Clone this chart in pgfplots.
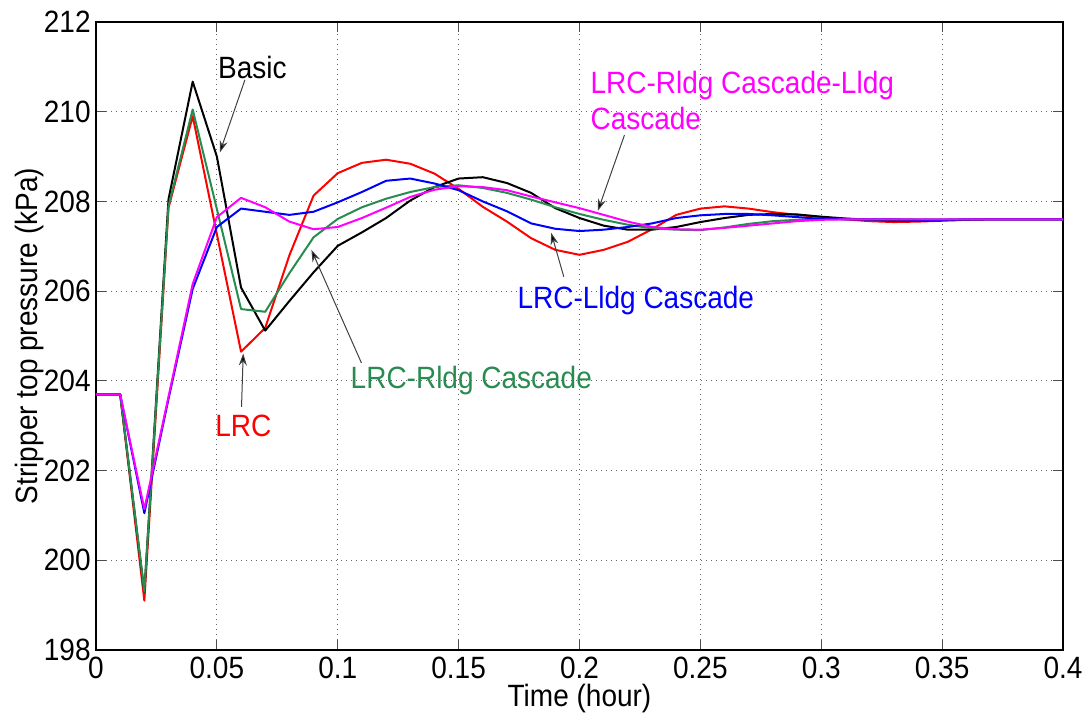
\documentclass[border=0pt]{standalone}
\usepackage{fontspec}
\setmainfont{Liberation Sans}
\usepackage{graphicx}
\usepackage{pgfplots}
\usepackage{pgfplotstable}
\pgfplotsset{compat=1.18}
\usetikzlibrary{arrows.meta}
\definecolor{mgreen}{RGB}{40,140,80}
\definecolor{mag}{RGB}{255,0,255}
\definecolor{mred}{RGB}{255,0,0}
\definecolor{mblue}{RGB}{0,0,255}
\newcommand{\st}[1]{\scalebox{1}[1.1]{#1}}
\newcommand{\fs}{\fontsize{14bp}{16bp}\selectfont}

\pgfplotstableread{
x basic lrc rldg lldg both
0.00 203.70 203.70 203.70 203.70 203.70
0.01 203.70 203.70 203.70 203.70 203.70
0.02 199.30 199.10 199.30 201.05 201.14
0.03 208.05 207.86 207.90 203.60 203.65
0.04 210.67 209.90 210.05 206.05 206.16
0.05 209.00 207.27 207.83 207.43 207.65
0.06 206.08 204.65 205.60 207.84 208.08
0.07 205.12 205.18 205.54 207.77 207.87
0.08 205.78 206.80 206.40 207.70 207.55
0.09 206.42 208.13 207.20 207.77 207.38
0.10 207.01 208.63 207.61 207.98 207.43
0.11 207.31 208.86 207.87 208.21 207.63
0.12 207.63 208.93 208.06 208.46 207.86
0.13 208.02 208.84 208.21 208.51 208.10
0.14 208.32 208.62 208.32 208.40 208.26
0.15 208.51 208.28 208.36 208.25 208.34
0.16 208.54 207.88 208.30 208.00 208.32
0.17 208.41 207.55 208.19 207.78 208.25
0.18 208.19 207.18 208.04 207.51 208.11
0.19 207.85 206.92 207.87 207.39 207.98
0.20 207.63 206.81 207.72 207.34 207.85
0.21 207.46 206.92 207.59 207.37 207.70
0.22 207.37 207.10 207.48 207.43 207.55
0.23 207.37 207.38 207.40 207.51 207.43
0.24 207.43 207.70 207.37 207.63 207.38
0.25 207.54 207.84 207.36 207.69 207.37
0.26 207.63 207.89 207.42 207.72 207.41
0.27 207.70 207.84 207.50 207.72 207.46
0.28 207.72 207.76 207.56 207.69 207.51
0.29 207.71 207.70 207.59 207.65 207.56
0.30 207.66 207.65 207.61 207.61 207.59
0.31 207.62 207.60 207.61 207.60 207.60
0.32 207.59 207.56 207.60 207.60 207.60
0.33 207.57 207.54 207.60 207.60 207.60
0.34 207.57 207.55 207.60 207.59 207.60
0.35 207.58 207.57 207.60 207.59 207.60
0.36 207.59 207.59 207.60 207.60 207.60
0.37 207.60 207.60 207.60 207.60 207.60
0.38 207.60 207.60 207.60 207.60 207.60
0.39 207.60 207.60 207.60 207.60 207.60
0.40 207.60 207.60 207.60 207.60 207.60
}\datatable

\begin{document}
\begin{tikzpicture}
\path[use as bounding box] (-48bp,-37.5bp) rectangle (497.5bp,325bp);
\begin{axis}[
  at={(0,0)}, anchor=south west,
  scale only axis, width=483.5bp, height=314bp,
  xmin=0, xmax=0.4, ymin=198, ymax=212,
  xtick={0,0.05,0.1,0.15,0.2,0.25,0.3,0.35,0.4},
  xticklabels={\st{0},\st{0.05},\st{0.1},\st{0.15},\st{0.2},\st{0.25},\st{0.3},\st{0.35},\st{0.4}},
  ytick={198,200,202,204,206,208,210,212},
  yticklabels={\st{198},\st{200},\st{202},\st{204},\st{206},\st{208},\st{210},\st{212}},
  xticklabel style={font=\fs, inner sep=0pt, yshift=-3.5bp},
  yticklabel style={font=\fs, inner sep=0pt, xshift=-2.5bp},
  tick align=inside, major tick length=5bp,
  every tick/.style={black!70, line width=0.5bp},
  axis line style={black, line width=0.6bp},
  grid=major,
  grid style={black!60, line width=0.5bp, dash pattern=on 0.5bp off 2bp},
  xlabel={\st{Time (hour)}},
  xlabel style={font=\fs, at={(axis description cs:0.5,0)}, anchor=north, inner sep=0pt, yshift=-17bp},
  ylabel={\st{Stripper top pressure (kPa)}},
  ylabel style={font=\fs, at={([xshift=-33bp]axis description cs:0,0.5)}, anchor=center, inner sep=0pt},
  clip=false,
  every axis plot/.append style={line width=1bp, line join=round},
]
\addplot[mred] table[x=x,y=lrc]{\datatable};
\addplot[black] table[x=x,y=basic]{\datatable};
\addplot[mgreen] table[x=x,y=rldg]{\datatable};
\addplot[mblue] table[x=x,y=lldg]{\datatable};
\addplot[mag] table[x=x,y=both]{\datatable};

% annotations
\node[font=\fs, anchor=base west, inner sep=0pt, black] at (axis cs:0.0504,210.75) {\st{Basic}};
\node[font=\fs, anchor=base west, inner sep=0pt, mred] at (axis cs:0.0492,202.77) {\st{LRC}};
\node[font=\fs, anchor=base west, inner sep=0pt, mgreen] at (axis cs:0.1052,203.83) {\st{LRC-Rldg Cascade}};
\node[font=\fs, anchor=base west, inner sep=0pt, mblue] at (axis cs:0.1742,205.62) {\st{LRC-Lldg Cascade}};
\node[font=\fs, anchor=base west, inner sep=0pt, mag] at (axis cs:0.2044,210.41) {\st{LRC-Rldg Cascade-Lldg}};
\node[font=\fs, anchor=base west, inner sep=0pt, mag] at (axis cs:0.2044,209.61) {\st{Cascade}};

\tikzset{ann/.style={draw=black!75, line width=0.5bp, -{Stealth[length=6bp,width=4bp,fill=black]}}}
\draw[ann] (axis cs:0.0616,210.71) -- (axis cs:0.0512,209.09);
\draw[ann] (axis cs:0.0602,203.42) -- (axis cs:0.0609,204.61);
\draw[ann] (axis cs:0.1098,204.40) -- (axis cs:0.0891,206.92);
\draw[ann] (axis cs:0.1935,206.32) -- (axis cs:0.1883,207.30);
\draw[ann] (axis cs:0.2186,209.48) -- (axis cs:0.2076,207.79);
\end{axis}
\end{tikzpicture}
\end{document}
